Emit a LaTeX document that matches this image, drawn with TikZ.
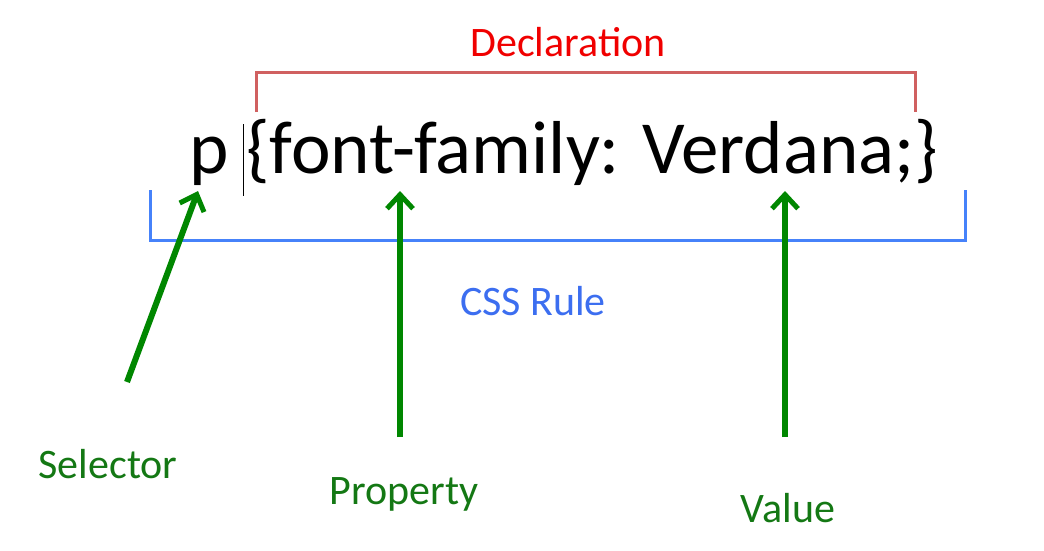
\documentclass[tikz,border=0pt]{standalone}
\usepackage{fontspec}
\setmainfont{Carlito}
\usetikzlibrary{arrows.meta}
\definecolor{declred}{RGB}{208,96,96}
\definecolor{decltext}{RGB}{240,0,0}
\definecolor{rulblue}{RGB}{70,130,250}
\definecolor{ruletext}{RGB}{60,110,240}
\definecolor{arrgreen}{RGB}{0,135,0}
\definecolor{labgreen}{RGB}{20,120,20}
\tikzset{
  big/.style={font=\fontsize{75}{88}\selectfont, inner sep=0pt, anchor=base west},
  lab/.style={font=\fontsize{42}{50}\selectfont, inner sep=0pt, anchor=base},
  brace/.style={line width=3pt, line cap=butt, line join=miter},
  garrow/.style={draw=arrgreen, line width=6pt, -{Straight Barb[length=14pt,width=26pt,line width=5pt]}}
}
\begin{document}
\begin{tikzpicture}[x=1pt,y=-1pt]
\useasboundingbox (0,0) rectangle (1044,551);
% main text
\node[big] (sel) at (189,173) {p};
\node[big] (decl) at (246,173) {\{font-family: Verdana;\}};
\coordinate (curtop) at (243,124);
\coordinate (curbot) at (243,196);
\draw[line width=0.8pt] (curtop) -- (curbot);
% labels
\node[lab, text=decltext] (dlab) at (568,57) {Declaration};
\node[lab, text=ruletext] (rlab) at (533,315) {CSS Rule};
\node[lab, text=labgreen] (slab) at (108,478) {Selector};
\node[lab, text=labgreen] (plab) at (404,504) {Property};
\node[lab, text=labgreen] (vlab) at (788,522) {Value};
% brackets
\coordinate (d1) at (256,112);
\coordinate (d2) at (256,73);
\coordinate (d3) at (915,73);
\coordinate (d4) at (915,112);
\draw[brace, draw=declred] (d1) -- (d2) -- (d3) -- (d4);
\coordinate (r1) at (150,190);
\coordinate (r2) at (150,240);
\coordinate (r3) at (965,240);
\coordinate (r4) at (965,190);
\draw[brace, draw=rulblue] (r1) -- (r2) -- (r3) -- (r4);
% arrows
\coordinate (sa) at (127,382);
\coordinate (st) at (198,191);
\coordinate (pa) at (400,437);
\coordinate (pt) at (400,191);
\coordinate (va) at (785,437);
\coordinate (vt) at (785,191);
\draw[garrow] (sa) -- (st);
\draw[garrow] (pa) -- (pt);
\draw[garrow] (va) -- (vt);
\end{tikzpicture}
\end{document}
